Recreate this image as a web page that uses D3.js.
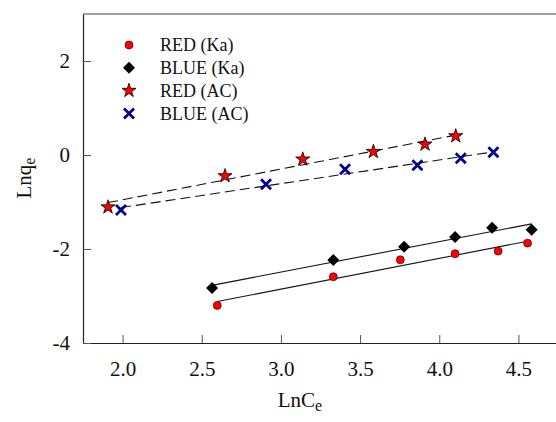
<!DOCTYPE html>
<html><head><meta charset="utf-8">
<script src="https://cdn.jsdelivr.net/npm/d3@7"></script>
<style>body{margin:0;background:#fff}svg{display:block}text{font-family:"Liberation Serif","Times New Roman",serif}</style>
</head><body><svg id="c" width="556" height="422"></svg>
<script>
const xTicks=[2.0,2.5,3.0,3.5,4.0,4.5];
const yTicks=[-4,-2,0,2];
const redKaX=[2.598,3.331,3.754,4.100,4.372,4.558];
const redKaY=[-3.20,-2.59,-2.23,-2.10,-2.045,-1.875];
const blueKaX=[2.565,3.331,3.778,4.100,4.334,4.584];
const blueKaY=[-2.83,-2.236,-1.953,-1.747,-1.55,-1.592];
const redAcX=[1.908,2.647,3.138,3.584,3.910,4.104];
const redAcY=[-1.11,-0.446,-0.091,0.07,0.227,0.403];
const blueAcX=[1.99,2.906,3.405,3.862,4.136,4.342];
const blueAcY=[-1.168,-0.622,-0.304,-0.219,-0.07,0.057];
const legendLabels=["RED (Ka)","BLUE (Ka)","RED (AC)","BLUE (AC)"];

const svg=d3.select("#c");
const x=d3.scaleLinear().domain([1.75,4.75]).range([83,558]);
const y=d3.scaleLinear().domain([-4,3]).range([343,14]);

// frame
svg.append("line").attr("x1",83).attr("x2",558).attr("y1",14).attr("y2",14).attr("stroke","#444").attr("stroke-width",1.2);
const gx=svg.append("g").attr("transform","translate(0,343)").call(d3.axisBottom(x).tickValues(xTicks).tickFormat(d3.format(".1f")).tickSizeInner(-8).tickSizeOuter(0).tickPadding(18));
const gy=svg.append("g").attr("transform","translate(83,0)").call(d3.axisLeft(y).tickValues(yTicks).tickFormat(d=>d).tickSizeInner(-8).tickSizeOuter(0).tickPadding(13));
[gx,gy].forEach(g=>{g.select(".domain").attr("stroke","#222").attr("stroke-width",1.2);g.selectAll(".tick line").attr("stroke","#555");g.selectAll("text").attr("font-size",21).attr("fill","#111").attr("font-family","Liberation Serif");});
gx.selectAll(".tick text").attr("dy","0.71em");

// titles
const xt=svg.append("text").attr("x",300).attr("y",407).attr("text-anchor","middle").attr("font-size",21).attr("fill","#111");
xt.append("tspan").text("LnC");xt.append("tspan").attr("dy",4).attr("font-size",16).text("e");
const yt=svg.append("text").attr("transform","translate(31,178) rotate(-90)").attr("text-anchor","middle").attr("font-size",21).attr("fill","#111");
yt.append("tspan").text("Lnq");yt.append("tspan").attr("dy",4).attr("font-size",16).text("e");

function fit(xs,ys){const mx=d3.mean(xs),my=d3.mean(ys);let sxy=0,sxx=0;xs.forEach((v,i)=>{sxy+=(v-mx)*(ys[i]-my);sxx+=(v-mx)**2;});const b=sxy/sxx;return {b,a:my-b*mx,x0:d3.min(xs),x1:d3.max(xs)};}
function drawFit(xs,ys,dash){const f=fit(xs,ys);svg.append("line").attr("x1",x(f.x0)).attr("x2",x(f.x1)).attr("y1",y(f.a+f.b*f.x0)).attr("y2",y(f.a+f.b*f.x1)).attr("stroke","#111").attr("stroke-width",1.1).attr("stroke-dasharray",dash?"10,5":null);}
drawFit(redKaX,redKaY,false);
drawFit(blueKaX,blueKaY,false);
drawFit(redAcX,redAcY,true);
drawFit(blueAcX,blueAcY,true);

const circ=d3.symbol().type(d3.symbolCircle).size(50);
const star=d3.symbol().type(d3.symbolStar).size(62);
function marker(g,type,cx,cy){
  if(type===0) g.append("path").attr("d",circ()).attr("transform",`translate(${cx},${cy})`).attr("fill","#ff0000").attr("stroke","#400").attr("stroke-width",0.7);
  else if(type===1) g.append("path").attr("d","M0,-6L6,0L0,6L-6,0Z").attr("transform",`translate(${cx},${cy})`).attr("fill","#000");
  else if(type===2) g.append("path").attr("d",star()).attr("transform",`translate(${cx},${cy})`).attr("fill","#ff0000").attr("stroke","#000").attr("stroke-width",0.8);
  else g.append("path").attr("d","M-5,-5L5,5M-5,5L5,-5").attr("transform",`translate(${cx},${cy})`).attr("stroke","#00008b").attr("stroke-width",2.8).attr("fill","none");
}
const series=[[redKaX,redKaY],[blueKaX,blueKaY],[redAcX,redAcY],[blueAcX,blueAcY]];
series.forEach((s,k)=>{s[0].forEach((v,i)=>marker(svg,k,x(v),y(s[1][i])));});

// legend
legendLabels.forEach((l,i)=>{const yy=45+i*22.8;marker(svg,i,129,yy);svg.append("text").attr("x",160).attr("y",yy).attr("dy","0.35em").attr("font-size",18).attr("fill","#111").text(l);});
</script></body></html>
